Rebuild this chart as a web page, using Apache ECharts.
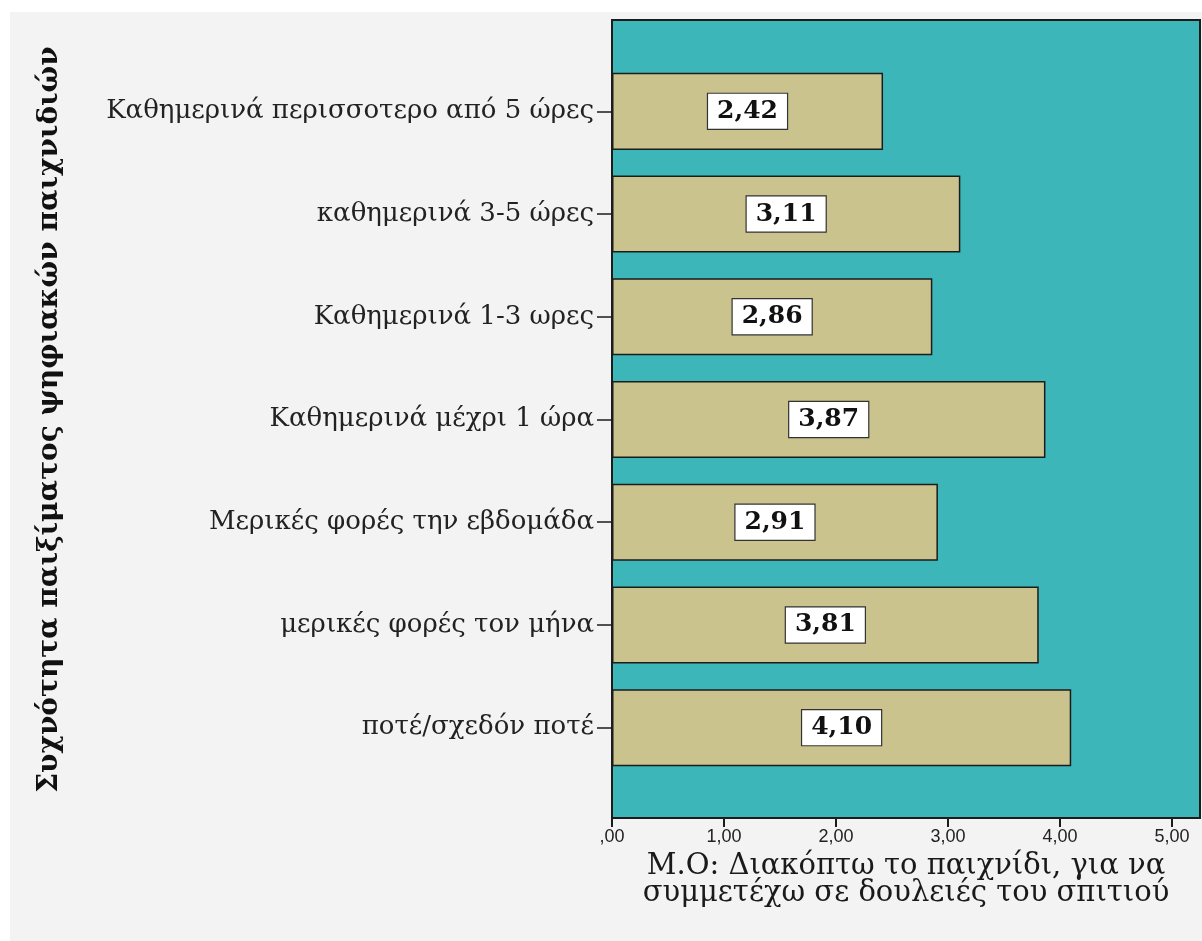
<!DOCTYPE html>
<html>
<head>
<meta charset="utf-8">
<script src="https://cdn.jsdelivr.net/npm/echarts@6/dist/echarts.min.js"></script>
<style>
  html, body { margin: 0; padding: 0; background: #ffffff; }
  #c { position: absolute; left: 10px; top: 12px; width: 1192px; height: 929px; background: #f3f3f3; }
</style>
</head>
<body>
<div id="c"></div>
<script>
// Frequency of playing digital games (top to bottom)
const categories = [
  'Καθημερινά περισσοτερο από 5 ώρες',
  'καθημερινά 3-5 ώρες',
  'Καθημερινά 1-3 ωρες',
  'Καθημερινά μέχρι 1 ώρα',
  'Μερικές φορές την εβδομάδα',
  'μερικές φορές τον μήνα',
  'ποτέ/σχεδόν ποτέ'
];
// Mean score for each frequency group
const means = [2.42, 3.11, 2.86, 3.87, 2.91, 3.81, 4.10];
// Tick positions on the value axis
const tickValues = [0, 1, 2, 3, 4, 5];

const yTitle = 'Συχνότητα παιξίματος ψηφιακών παιχνιδιών';
const xTitle = 'Μ.Ο: Διακόπτω το παιχνίδι, για να\nσυμμετέχω σε δουλειές του σπιτιού';

const fmt = v => {
  const s = Number(v).toFixed(2).replace('.', ',');
  return s.startsWith('0,') ? s.slice(1) : s;
};

const AXIS_MAX = 5.25;
const DARK = '#1c1c1c';

const chart = echarts.init(document.getElementById('c'), null, { renderer: 'canvas' });
chart.setOption({
  animation: false,
  backgroundColor: '#f3f3f3',
  grid: [
    // plot frame with the teal fill
    { left: 602, top: 8, width: 588, height: 798, show: true,
      backgroundColor: '#3db6b9', borderColor: DARK, borderWidth: 2 },
    // inner area holding the bars
    { left: 602, top: 48, width: 588, height: 719 }
  ],
  xAxis: [
    { gridIndex: 0, type: 'value', min: 0, max: AXIS_MAX, interval: 1,
      splitLine: { show: false },
      axisLine: { show: true, lineStyle: { color: DARK, width: 2 } },
      axisTick: { show: true, length: 9, customValues: tickValues,
        lineStyle: { color: DARK, width: 2 } },
      axisLabel: { customValues: tickValues, formatter: fmt, margin: 10,
        fontFamily: 'Liberation Sans, Arial, sans-serif', fontSize: 18, color: '#222' },
      name: xTitle, nameLocation: 'middle', nameGap: 35,
      nameTextStyle: { fontFamily: 'DejaVu Serif, serif', fontSize: 29, color: '#1a1a1a',
        lineHeight: 27, verticalAlign: 'top' } },
    { gridIndex: 1, type: 'value', min: 0, max: AXIS_MAX, show: false,
      splitLine: { show: false } }
  ],
  yAxis: [
    { gridIndex: 0, type: 'value', show: false, splitLine: { show: false } },
    { gridIndex: 1, type: 'category', data: categories, inverse: true,
      axisLine: { show: true, lineStyle: { color: DARK, width: 2 } },
      axisTick: { show: true, alignWithLabel: true, length: 15,
        lineStyle: { color: DARK, width: 1.5 } },
      axisLabel: { margin: 18, fontFamily: 'DejaVu Serif, serif', fontSize: 26, color: '#222' },
      name: yTitle, nameLocation: 'middle', nameRotate: 90, nameGap: 548,
      nameTextStyle: { fontFamily: 'DejaVu Serif, serif', fontWeight: 'bold', fontSize: 28,
        color: '#111' } }
  ],
  series: [{
    type: 'bar',
    xAxisIndex: 1, yAxisIndex: 1,
    data: means,
    barWidth: '75%',
    itemStyle: { color: '#cbc38d', borderColor: DARK, borderWidth: 1.5 },
    label: {
      show: true, position: 'inside',
      formatter: p => fmt(p.value),
      fontFamily: 'DejaVu Serif, serif', fontWeight: 'bold', fontSize: 25, color: '#111',
      backgroundColor: '#ffffff', borderColor: '#333', borderWidth: 1.2,
      padding: [6, 9, 4, 9]
    }
  }]
});
</script>
</body>
</html>
